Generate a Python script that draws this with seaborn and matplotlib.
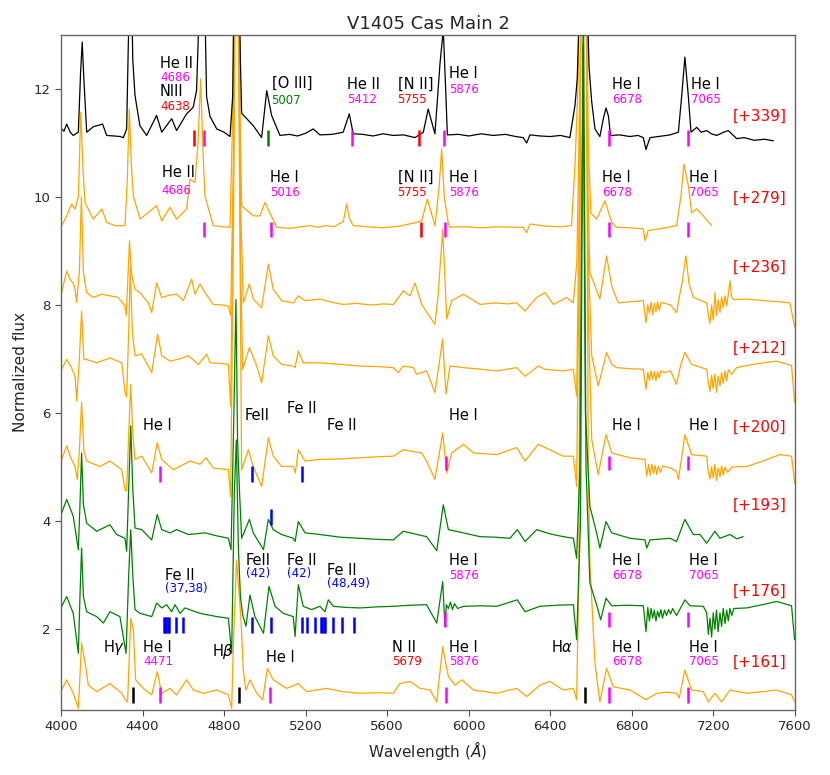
import numpy as np
import pandas as pd
import matplotlib
matplotlib.use("Agg")
import matplotlib.pyplot as plt
import seaborn as sns

# ---------------- spectra (wavelength [A], plotted flux incl. offset) -------------
wl_339 = [4003, 4015, 4028, 4045, 4060, 4085, 4096, 4104, 4112, 4126, 4158, 4204, 4224, 4260, 4290, 4306, 4322, 4330, 4338, 4346, 4352, 4363, 4387, 4420, 4469, 4494, 4543, 4567, 4616, 4641, 4649, 4665, 4678, 4690, 4706, 4714, 4731, 4764, 4800, 4829, 4842, 4852, 4870, 4880, 4886, 4911, 4943, 4984, 5009, 5033, 5074, 5120, 5160, 5200, 5237, 5270, 5330, 5384, 5414, 5433, 5480, 5530, 5580, 5630, 5680, 5736, 5777, 5801, 5834, 5859, 5875, 5888, 5895, 5950, 6000, 6060, 6120, 6180, 6230, 6267, 6284, 6300, 6350, 6400, 6450, 6496, 6521, 6532, 6542, 6555, 6572, 6582, 6590, 6603, 6619, 6643, 6660, 6673, 6685, 6695, 6740, 6790, 6830, 6856, 6869, 6889, 6930, 6987, 7028, 7044, 7060, 7077, 7090, 7118, 7140, 7167, 7190, 7216, 7250, 7273, 7314, 7350, 7400, 7450, 7494]
fx_339 = [11.26, 11.22, 11.35, 11.2, 11.14, 11.2, 12.3, 12.87, 12.2, 11.2, 11.3, 11.35, 11.14, 11.13, 11.12, 11.1, 11.26, 12.8, 14, 14, 12.54, 11.88, 11.32, 11.14, 11.51, 11.2, 11.45, 11.23, 11.54, 11.63, 11.67, 11.98, 13.5, 14.5, 13.5, 11.86, 11.49, 11.26, 11.2, 11.12, 11.86, 15, 15, 12.5, 11.55, 11.45, 11.32, 11.1, 11.97, 11.51, 11.14, 11.16, 11.13, 11.18, 11.26, 11.15, 11.16, 11.2, 11.54, 11.17, 11.16, 11.13, 11.17, 11.14, 11.15, 11.1, 11.2, 11.63, 11.17, 12.48, 13.1, 11.86, 11.15, 11.16, 11.13, 11.17, 11.14, 11.16, 11.12, 11.1, 11.0, 11.15, 11.13, 11.12, 11.14, 11.1, 11.7, 12.19, 13.5, 16, 16, 13.5, 12.4, 11.76, 11.26, 11.12, 11.45, 11.65, 11.5, 11.14, 11.15, 11.12, 11.14, 11.1, 10.88, 11.1, 11.12, 11.15, 11.2, 11.86, 12.59, 11.86, 11.2, 11.29, 11.2, 11.23, 11.17, 11.14, 11.2, 11.23, 11.08, 11.1, 11.05, 11.07, 11.04]

wl_279 = [4003, 4028, 4052, 4069, 4085, 4097, 4108, 4118, 4158, 4200, 4224, 4265, 4314, 4325, 4335, 4345, 4355, 4388, 4469, 4494, 4535, 4567, 4616, 4633, 4657, 4672, 4685, 4695, 4706, 4747, 4790, 4829, 4845, 4855, 4868, 4880, 4886, 4943, 4976, 5000, 5058, 5120, 5180, 5221, 5260, 5300, 5340, 5385, 5401, 5415, 5433, 5500, 5580, 5660, 5744, 5769, 5797, 5834, 5855, 5867, 5880, 5900, 5908, 5980, 6060, 6140, 6210, 6267, 6284, 6300, 6380, 6450, 6504, 6521, 6535, 6555, 6572, 6586, 6599, 6627, 6668, 6701, 6725, 6790, 6856, 6864, 6880, 6950, 7019, 7040, 7055, 7077, 7093, 7118, 7150, 7191]
fx_279 = [9.47, 9.65, 9.87, 9.78, 10.0, 11.57, 10.5, 9.9, 9.59, 9.78, 9.53, 9.47, 9.47, 10.3, 11.63, 10.6, 10.02, 9.59, 9.84, 9.56, 9.81, 9.59, 9.78, 10.33, 10.27, 11.0, 12.19, 11.0, 10.02, 9.47, 9.45, 9.44, 12, 15, 15, 11, 9.84, 9.65, 9.65, 9.9, 9.44, 9.42, 9.45, 9.47, 9.44, 9.47, 9.45, 9.55, 9.87, 9.6, 9.47, 9.45, 9.43, 9.46, 9.53, 9.56, 9.96, 9.47, 10.2, 10.89, 10.0, 9.5, 9.44, 9.45, 9.43, 9.45, 9.44, 9.44, 9.34, 9.5, 9.46, 9.45, 9.47, 10.6, 12, 16, 16, 10.95, 9.7, 9.59, 9.93, 9.53, 9.44, 9.43, 9.41, 9.19, 9.38, 9.42, 9.47, 10.0, 10.61, 10.21, 9.71, 9.78, 9.65, 9.47]

wl_236 = [4003, 4028, 4044, 4060, 4069, 4076, 4090, 4100, 4110, 4126, 4158, 4200, 4240, 4281, 4314, 4320, 4328, 4336, 4345, 4363, 4387, 4428, 4445, 4469, 4494, 4530, 4567, 4600, 4641, 4657, 4682, 4706, 4747, 4790, 4821, 4832, 4845, 4855, 4868, 4880, 4894, 4924, 4943, 4984, 5017, 5041, 5082, 5139, 5164, 5197, 5270, 5330, 5384, 5450, 5520, 5580, 5630, 5679, 5712, 5736, 5769, 5834, 5850, 5872, 5885, 5892, 5916, 5974, 6055, 6130, 6190, 6235, 6276, 6333, 6374, 6415, 6480, 6513, 6530, 6545, 6560, 6575, 6585, 6594, 6643, 6676, 6701, 6733, 6790, 6856, 6869, 6878, 6886, 6894, 6902, 6910, 6918, 6926, 6934, 6942, 6954, 6990, 7019, 7050, 7065, 7080, 7101, 7167, 7175, 7183, 7191, 7199, 7207, 7215, 7223, 7232, 7240, 7248, 7257, 7265, 7273, 7281, 7289, 7300, 7363, 7450, 7520, 7575, 7598]
fx_236 = [8.23, 8.63, 8.48, 8.4, 8.29, 8.05, 8.6, 10.0, 8.6, 8.23, 8.14, 8.2, 8.17, 8.14, 7.98, 7.8, 8.5, 9.19, 8.6, 8.29, 8.23, 8.04, 7.86, 8.41, 8.14, 8.18, 8.2, 8.08, 8.48, 8.2, 8.39, 8.23, 8.01, 8.0, 7.98, 7.8, 10.5, 15, 15, 10, 8.04, 8.39, 8.11, 7.95, 8.76, 8.29, 8.08, 8.04, 8.17, 8.08, 8.11, 8.05, 8.01, 8.03, 8.0, 8.02, 8.01, 8.26, 8.17, 8.41, 8.01, 7.64, 8.2, 9.4, 8.3, 7.74, 8.08, 8.2, 8.01, 8.04, 8.02, 8.04, 7.89, 8.14, 8.23, 8.01, 8.14, 8.04, 8.8, 12, 16, 16, 10, 8.6, 8.11, 8.91, 8.35, 8.04, 8.06, 8.08, 7.67, 8.0, 7.85, 8.05, 7.82, 8.03, 7.88, 8.06, 7.9, 8.04, 8.04, 8.0, 7.86, 8.5, 8.91, 8.4, 8.14, 8.04, 7.8, 7.66, 8.0, 7.72, 8.23, 7.8, 8.1, 7.86, 8.15, 7.95, 8.17, 7.98, 8.2, 8.45, 8.14, 8.1, 8.11, 8.08, 8.06, 8.04, 7.6]

wl_212 = [4003, 4028, 4050, 4069, 4077, 4090, 4101, 4112, 4126, 4175, 4240, 4298, 4314, 4322, 4332, 4340, 4350, 4363, 4396, 4445, 4474, 4494, 4535, 4580, 4625, 4674, 4715, 4731, 4780, 4821, 4832, 4845, 4855, 4868, 4880, 4891, 4924, 4960, 4984, 5017, 5041, 5082, 5139, 5148, 5164, 5188, 5270, 5370, 5466, 5550, 5630, 5654, 5679, 5728, 5744, 5793, 5834, 5872, 5888, 5908, 5974, 6060, 6137, 6235, 6276, 6341, 6374, 6464, 6513, 6529, 6542, 6555, 6572, 6585, 6603, 6635, 6676, 6701, 6725, 6790, 6856, 6869, 6878, 6886, 6894, 6902, 6910, 6918, 6926, 6934, 6942, 6960, 6990, 7019, 7040, 7060, 7093, 7167, 7175, 7183, 7191, 7199, 7207, 7215, 7223, 7232, 7240, 7248, 7257, 7265, 7273, 7290, 7314, 7380, 7445, 7510, 7583, 7598]
fx_212 = [6.81, 6.99, 6.85, 6.68, 6.22, 7.0, 7.89, 7.0, 6.99, 6.93, 7.02, 6.93, 6.38, 6.3, 7.5, 8.7, 7.5, 7.06, 7.09, 6.75, 7.46, 7.06, 6.96, 7.0, 7.06, 6.9, 7.09, 6.93, 6.92, 6.9, 6.12, 10, 15, 15, 9, 6.81, 7.21, 6.87, 6.56, 7.43, 7.06, 6.9, 6.87, 6.84, 7.15, 6.93, 6.93, 6.9, 6.87, 6.86, 6.84, 6.75, 6.87, 6.84, 6.72, 6.78, 6.38, 7.37, 6.35, 6.87, 6.84, 6.81, 6.78, 6.84, 6.68, 6.87, 6.81, 6.78, 6.81, 6.31, 10, 16, 16, 9, 7.06, 6.5, 7.12, 6.9, 6.84, 6.82, 6.81, 6.44, 6.75, 6.6, 6.78, 6.62, 6.77, 6.6, 6.76, 6.65, 6.78, 6.75, 6.78, 6.53, 6.9, 7.12, 6.9, 6.81, 6.55, 6.4, 6.7, 6.45, 6.72, 6.38, 6.68, 6.5, 6.75, 6.55, 6.78, 6.6, 6.8, 6.72, 6.84, 6.89, 6.93, 6.96, 6.88, 6.2]

wl_200 = [4003, 4028, 4050, 4069, 4080, 4090, 4101, 4112, 4126, 4191, 4240, 4298, 4314, 4322, 4332, 4342, 4352, 4363, 4396, 4445, 4472, 4494, 4551, 4633, 4682, 4711, 4747, 4821, 4832, 4845, 4855, 4868, 4880, 4886, 4919, 4943, 4984, 5017, 5041, 5082, 5139, 5149, 5164, 5197, 5270, 5370, 5466, 5550, 5630, 5679, 5769, 5793, 5834, 5872, 5892, 5916, 5974, 6023, 6137, 6235, 6276, 6341, 6374, 6464, 6513, 6529, 6542, 6555, 6572, 6585, 6603, 6635, 6673, 6701, 6791, 6864, 6873, 6882, 6890, 6898, 6906, 6914, 6922, 6930, 6940, 6950, 6990, 7019, 7028, 7045, 7060, 7093, 7167, 7175, 7183, 7191, 7199, 7207, 7215, 7223, 7232, 7240, 7248, 7257, 7270, 7290, 7363, 7450, 7526, 7583, 7598]
fx_200 = [5.14, 5.39, 5.15, 5.01, 4.77, 5.3, 6.2, 5.3, 5.11, 5.01, 5.11, 4.95, 4.58, 4.55, 5.6, 6.53, 5.6, 5.14, 5.2, 4.89, 5.45, 5.14, 4.95, 5.11, 5.05, 5.17, 4.98, 4.95, 4.45, 9, 14, 14, 8, 4.95, 5.32, 5.01, 4.64, 5.54, 5.2, 5.01, 5.01, 4.89, 5.32, 5.11, 5.14, 5.15, 5.17, 5.19, 5.2, 5.32, 5.26, 5.11, 4.77, 5.63, 4.89, 5.26, 5.42, 5.26, 5.23, 5.36, 5.11, 5.42, 5.36, 5.2, 5.2, 4.64, 9, 16, 16, 8, 5.51, 4.86, 5.6, 5.26, 5.17, 5.14, 4.83, 5.05, 4.85, 5.05, 4.88, 5.03, 4.86, 5.02, 4.9, 5.02, 4.98, 4.92, 4.77, 5.2, 5.6, 5.23, 5.2, 4.9, 4.78, 5.0, 4.8, 5.05, 4.75, 4.98, 4.82, 5.02, 4.85, 5.0, 4.9, 5.0, 5.01, 5.12, 5.23, 5.2, 4.7]

wl_193 = [4003, 4028, 4060, 4085, 4093, 4101, 4110, 4126, 4175, 4240, 4273, 4314, 4322, 4332, 4342, 4352, 4363, 4396, 4445, 4472, 4494, 4535, 4567, 4625, 4706, 4770, 4821, 4834, 4848, 4858, 4866, 4876, 4886, 4924, 4943, 4993, 5017, 5041, 5082, 5139, 5148, 5164, 5197, 5270, 5370, 5466, 5550, 5630, 5679, 5793, 5843, 5875, 5900, 5974, 6055, 6130, 6202, 6238, 6276, 6333, 6400, 6464, 6513, 6529, 6545, 6560, 6572, 6594, 6627, 6643, 6673, 6701, 6791, 6864, 6873, 6889, 6987, 7019, 7060, 7101, 7134, 7167, 7207, 7232, 7281, 7314, 7346]
fx_193 = [4.15, 4.4, 4.09, 3.47, 4.3, 5.26, 4.3, 3.96, 3.81, 3.93, 3.75, 3.68, 3.44, 4.6, 5.76, 4.6, 3.87, 3.84, 3.65, 4.12, 3.84, 3.78, 3.84, 3.75, 3.78, 3.72, 3.68, 3.47, 6.0, 8.1, 5.5, 4.5, 3.68, 4.03, 3.78, 3.47, 4.03, 3.84, 3.75, 3.68, 3.62, 3.99, 3.78, 3.75, 3.7, 3.68, 3.66, 3.65, 3.81, 3.71, 3.45, 4.3, 3.84, 3.78, 3.71, 3.7, 3.68, 3.84, 3.62, 3.84, 3.76, 3.71, 3.68, 3.31, 5.0, 12.8, 6.0, 4.27, 3.78, 3.5, 3.99, 3.78, 3.68, 3.65, 3.5, 3.65, 3.68, 3.62, 4.03, 3.75, 3.75, 3.59, 3.81, 3.68, 3.75, 3.67, 3.71]

wl_176 = [4003, 4028, 4060, 4085, 4093, 4101, 4110, 4126, 4175, 4208, 4240, 4289, 4319, 4332, 4342, 4352, 4363, 4387, 4445, 4469, 4494, 4518, 4543, 4559, 4584, 4608, 4682, 4764, 4821, 4837, 4850, 4860, 4870, 4880, 4891, 4907, 4927, 4951, 4993, 5020, 5050, 5090, 5139, 5148, 5164, 5188, 5229, 5270, 5295, 5311, 5336, 5400, 5466, 5550, 5630, 5710, 5793, 5843, 5872, 5883, 5890, 5900, 5910, 5920, 5930, 5945, 5974, 6060, 6137, 6238, 6276, 6349, 6430, 6513, 6529, 6548, 6562, 6575, 6594, 6627, 6647, 6673, 6701, 6780, 6856, 6869, 6878, 6886, 6894, 6902, 6910, 6918, 6926, 6934, 6942, 6950, 6960, 6970, 6980, 6990, 7000, 7019, 7040, 7060, 7085, 7150, 7167, 7175, 7183, 7191, 7199, 7207, 7215, 7223, 7232, 7240, 7248, 7257, 7265, 7273, 7281, 7290, 7300, 7363, 7440, 7510, 7583, 7598]
fx_176 = [2.42, 2.6, 2.29, 1.55, 2.6, 3.5, 2.6, 2.32, 2.23, 2.11, 2.32, 2.23, 1.55, 3.0, 3.84, 3.0, 2.36, 2.29, 2.23, 2.48, 2.39, 2.45, 2.32, 2.45, 2.29, 2.39, 2.29, 2.23, 2.2, 1.55, 4.5, 5.5, 3.5, 2.6, 2.26, 2.05, 2.63, 2.23, 1.92, 2.79, 2.42, 2.29, 2.23, 1.86, 2.82, 2.42, 2.36, 2.42, 2.32, 2.54, 2.42, 2.4, 2.39, 2.41, 2.42, 2.44, 2.45, 2.11, 2.88, 2.05, 2.45, 2.38, 2.5, 2.36, 2.47, 2.38, 2.42, 2.43, 2.42, 2.54, 2.32, 2.42, 2.44, 2.45, 1.8, 4.0, 14, 5.0, 2.85, 2.45, 2.17, 2.57, 2.43, 2.44, 2.43, 1.95, 2.4, 2.15, 2.38, 2.2, 2.35, 2.15, 2.33, 2.22, 2.36, 2.2, 2.35, 2.25, 2.36, 2.28, 2.38, 2.25, 2.4, 2.54, 2.43, 2.42, 2.3, 1.9, 2.2, 1.85, 2.3, 2.0, 2.35, 1.95, 2.3, 2.05, 2.38, 2.1, 2.35, 2.15, 2.38, 2.25, 2.38, 2.39, 2.45, 2.51, 2.43, 1.8]

wl_161 = [4003, 4028, 4060, 4085, 4101, 4121, 4134, 4175, 4240, 4298, 4322, 4327, 4342, 4355, 4366, 4404, 4445, 4472, 4494, 4535, 4567, 4616, 4649, 4698, 4764, 4821, 4837, 4845, 4861, 4883, 4894, 4907, 4927, 4960, 4989, 5012, 5041, 5107, 5164, 5205, 5303, 5380, 5466, 5550, 5630, 5662, 5712, 5761, 5810, 5843, 5872, 5900, 5933, 5966, 6023, 6080, 6137, 6235, 6284, 6349, 6398, 6464, 6513, 6529, 6540, 6552, 6575, 6586, 6594, 6619, 6643, 6676, 6709, 6791, 6869, 6922, 6970, 7019, 7032, 7060, 7093, 7150, 7175, 7207, 7240, 7281, 7363, 7440, 7510, 7583, 7598]
fx_161 = [0.87, 1.06, 0.81, 0.53, 1.74, 1.3, 0.96, 0.84, 0.99, 0.81, 0.65, 0.69, 2.2, 1.98, 1.06, 0.9, 0.78, 1.21, 0.81, 0.9, 0.78, 1.06, 0.87, 0.81, 0.87, 0.78, 0.53, 1.67, 3.28, 2.17, 1.24, 0.87, 1.06, 0.81, 0.69, 1.27, 1.06, 0.9, 0.99, 0.84, 0.9, 0.84, 0.81, 0.82, 0.81, 0.99, 1.03, 0.9, 0.87, 0.65, 1.67, 1.12, 0.96, 1.06, 0.87, 0.84, 0.81, 0.9, 0.75, 0.96, 1.03, 0.87, 0.9, 0.69, 3.0, 16, 16, 5.0, 3.22, 1.37, 0.65, 1.27, 0.93, 0.87, 0.69, 0.81, 0.83, 0.81, 0.72, 1.24, 0.87, 0.84, 0.65, 0.81, 0.65, 0.87, 0.81, 0.84, 0.87, 0.78, 0.65]

epochs = ["+339", "+279", "+236", "+212", "+200", "+193", "+176", "+161"]
spec_wl = [wl_339, wl_279, wl_236, wl_212, wl_200, wl_193, wl_176, wl_161]
spec_fx = [fx_339, fx_279, fx_236, fx_212, fx_200, fx_193, fx_176, fx_161]
spec_col = ["black", "orange", "orange", "orange", "orange", "green", "green", "orange"]
epoch_label_y = [11.49, 9.98, 8.69, 7.20, 5.74, 4.30, 2.69, 1.39]

# ---------------- line identification ticks -------------------------------------
tick_wl = [4650, 4700, 5017, 5425, 5757, 5878, 6689, 7074,
           4700, 5028, 5764, 5885, 6689, 7074,
           4486, 4937, 5182, 5887, 6689, 7074,
           5030,
           4503, 4509, 4516, 4523, 4529, 4566, 4599, 4938, 5030, 5180, 5208, 5246,
           5275, 5282, 5288, 5296, 5333, 5377, 5437, 5885, 6689, 7074,
           4351, 4486, 4875, 5025, 5887, 6570, 6689, 7074]
tick_lo = [10.95] * 8 + [9.26] * 6 + [4.73, 4.73, 4.73, 4.95, 4.95, 4.95] + [3.93] \
    + [1.93] * 19 + [2.04] * 3 + [0.63] * 8
tick_hi = [11.25] * 8 + [9.54] * 6 + [5.01, 5.01, 5.01, 5.21, 5.21, 5.21] + [4.23] \
    + [2.23] * 19 + [2.32] * 3 + [0.93] * 8
tick_col = ["red", "magenta", "green", "magenta", "red", "magenta", "magenta", "magenta",
            "magenta", "magenta", "red", "magenta", "magenta", "magenta",
            "magenta", "blue", "blue", "magenta", "magenta", "magenta",
            "blue"] + ["blue"] * 19 + ["magenta"] * 3 + \
           ["black", "magenta", "black", "magenta", "magenta", "black", "magenta", "magenta"]

# ---------------- annotations: (x, baseline y, text, colour, kind) ----------------
notes = [
    (4486, 12.389, "He II", "black", "n"), (4486, 12.139, "4686", "magenta", "d"),
    (4486, 11.870, "NIII", "black", "n"), (4486, 11.620, "4638", "red", "d"),
    (5033, 12.019, "[O III]", "black", "n"), (5033, 11.731, "5007", "green", "d"),
    (5403, 12.000, "He II", "black", "n"), (5403, 11.737, "5412", "magenta", "d"),
    (5651, 12.000, "[N II]", "black", "n"), (5651, 11.737, "5755", "red", "d"),
    (5903, 12.198, "He I", "black", "n"), (5903, 11.935, "5876", "magenta", "d"),
    (6701, 11.994, "He I", "black", "n"), (6701, 11.737, "6678", "magenta", "d"),
    (7088, 11.994, "He I", "black", "n"), (7088, 11.737, "7065", "magenta", "d"),
    (4494, 10.376, "He II", "black", "n"), (4494, 10.052, "4686", "magenta", "d"),
    (5025, 10.283, "He I", "black", "n"), (5025, 10.022, "5016", "magenta", "d"),
    (5651, 10.283, "[N II]", "black", "n"), (5651, 10.022, "5755", "red", "d"),
    (5903, 10.283, "He I", "black", "n"), (5903, 10.022, "5876", "magenta", "d"),
    (6652, 10.283, "He I", "black", "n"), (6652, 10.022, "6678", "magenta", "d"),
    (7082, 10.283, "He I", "black", "n"), (7082, 10.022, "7065", "magenta", "d"),
    (4404, 5.685, "He I", "black", "n"), (4902, 5.870, "FeII", "black", "n"),
    (5107, 5.994, "Fe II", "black", "n"), (5303, 5.685, "Fe II", "black", "n"),
    (5903, 5.870, "He I", "black", "n"), (6701, 5.685, "He I", "black", "n"),
    (7082, 5.685, "He I", "black", "n"),
    (4510, 2.907, "Fe II", "black", "n"), (4510, 2.676, "(37,38)", "blue", "d"),
    (4906, 3.185, "FeII", "black", "n"), (4906, 2.954, "(42)", "blue", "d"),
    (5107, 3.185, "Fe II", "black", "n"), (5107, 2.954, "(42)", "blue", "d"),
    (5306, 3.000, "Fe II", "black", "n"), (5306, 2.769, "(48,49)", "blue", "d"),
    (5903, 3.185, "He I", "black", "n"), (5903, 2.917, "5876", "magenta", "d"),
    (6701, 3.185, "He I", "black", "n"), (6701, 2.917, "6678", "magenta", "d"),
    (7082, 3.185, "He I", "black", "n"), (7082, 2.917, "7065", "magenta", "d"),
    (4207, 1.580, r"H$\gamma$", "black", "n"), (4404, 1.580, "He I", "black", "n"),
    (4404, 1.330, "4471", "magenta", "d"), (4739, 1.500, r"H$\beta$", "black", "n"),
    (5005, 1.389, "He I", "black", "n"), (5622, 1.580, "N II", "black", "n"),
    (5622, 1.330, "5679", "red", "d"), (5903, 1.580, "He I", "black", "n"),
    (5903, 1.330, "5876", "magenta", "d"), (6402, 1.580, r"H$\alpha$", "black", "n"),
    (6701, 1.580, "He I", "black", "n"), (6701, 1.330, "6678", "magenta", "d"),
    (7082, 1.580, "He I", "black", "n"), (7082, 1.330, "7065", "magenta", "d"),
]

# ---------------- figure ------------------------------------------------------------
sns.set_style("ticks")
plt.rcParams["font.family"] = ["DejaVu Sans"]
plt.rcParams["mathtext.fontset"] = "dejavusans"

fig = plt.figure(figsize=(8.3, 7.75), dpi=100)
ax = fig.add_axes([61 / 830, 1 - 710 / 775, 734 / 830, 675 / 775])

order = [1, 2, 3, 4, 7, 0, 5, 6]
for i in order:
    df = pd.DataFrame({"wl": spec_wl[i], "flux": spec_fx[i]})
    sns.lineplot(data=df, x="wl", y="flux", ax=ax, color=spec_col[i], lw=0.9,
                 sort=False, estimator=None, zorder=3 if spec_col[i] == "green" else 2)

for i, lab in enumerate(epochs):
    ax.text(7296, epoch_label_y[i], f"[{lab}]", color="red", fontsize=11,
            ha="left", va="center")

ax.vlines(tick_wl, tick_lo, tick_hi, colors=tick_col, lw=1.8, zorder=4)

for x, y, t, c, k in notes:
    ax.text(x, y, t, color=c, fontsize=10.5 if k == "n" else 8.5,
            ha="left", va="baseline", zorder=5)

ax.set_xlim(4000, 7600)
ax.set_ylim(0.5, 13.0)
ax.set_xticks(np.arange(4000, 7601, 400))
ax.set_yticks([2, 4, 6, 8, 10, 12])
ax.tick_params(labelsize=9.5, direction="out", length=4, color="0.3")
for s in ax.spines.values():
    s.set_color("0.4")
    s.set_linewidth(1.0)
ax.set_xlabel(r"Wavelength ($\AA$)", fontsize=11)
ax.set_ylabel("Normalized flux", fontsize=11)
ax.set_title("V1405 Cas Main 2", fontsize=13, pad=4)

fig.savefig("out.png", dpi=100)
